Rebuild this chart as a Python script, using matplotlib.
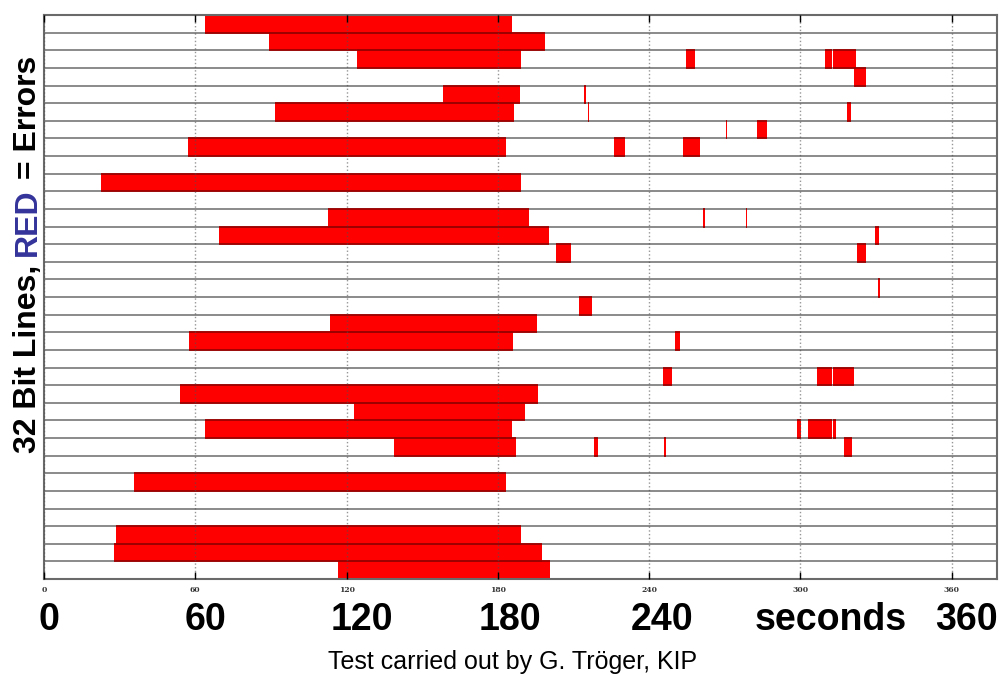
import numpy as np
import matplotlib
matplotlib.use("Agg")
import matplotlib.pyplot as plt
import matplotlib.transforms as mtransforms

# error intervals per bit line (line 0 = top row), seconds
err_line = [0, 1, 2, 2, 2, 2, 3, 4, 4, 5, 5, 5, 6, 6, 7, 7, 7, 9,
            11, 11, 11, 12, 12, 13, 13, 15, 16, 17, 18, 18,
            20, 20, 20, 21, 22, 23, 23, 23, 23, 24, 24, 24, 24,
            26, 29, 30, 31]
err_start = [64.0, 89.2, 124.1, 254.6, 309.7, 313.0, 321.2, 158.2, 214.3,
             91.6, 215.6, 318.7, 270.6, 282.9, 57.1, 226.2, 253.6, 22.5,
             112.8, 261.2, 278.3, 69.6, 329.8, 203.1, 322.5, 330.8, 212.3,
             113.5, 57.4, 250.3,
             245.6, 306.8, 313.0, 53.8, 123.0, 63.7, 298.5, 303.1, 313.0,
             138.9, 218.2, 245.9, 317.4,
             35.6, 28.4, 27.9, 116.6]
err_end = [185.5, 198.7, 189.2, 258.3, 312.5, 322.0, 326.2, 188.8, 215.0,
           186.4, 216.2, 320.0, 271.0, 286.6, 183.2, 230.4, 260.3, 189.0,
           192.5, 262.1, 278.9, 200.2, 331.0, 209.0, 326.2, 331.5, 217.2,
           195.4, 185.9, 252.2,
           248.9, 312.6, 321.2, 196.1, 190.8, 185.5, 300.2, 312.6, 314.3,
           187.1, 219.6, 246.8, 320.3,
           183.2, 189.2, 197.4, 200.7]

n_lines = 32
t_max = 378
ticks = [0, 60, 120, 180, 240, 300, 360]
big_labels = ["0", "60", "120", "180", "240", "seconds", "360"]
big_label_x = [2, 64, 126, 185, 245, 312, 366]

line = np.array(err_line)
start = np.array(err_start)
end = np.array(err_end)

fig = plt.figure(figsize=(9.99, 6.76), dpi=100)
ax = fig.add_axes([44 / 999, 97 / 676, 953 / 999, 564 / 676])

# row separators
ax.hlines(np.arange(1, n_lines), 0, t_max, color="#8a8a8a", lw=1.4, zorder=1)

# error bars
ax.barh(line + 0.5, end - start, left=start, height=1.0,
        color="#ff0000", edgecolor="none", zorder=2)
ax.hlines(np.r_[line, line + 1], np.r_[start, start], np.r_[end, end],
          color="#9e0000", lw=1.3, zorder=2.2)

ax.set_xlim(0, t_max)
ax.set_ylim(n_lines, 0)
ax.set_yticks([])
ax.set_xticks(ticks)
ax.set_xticklabels([str(t) for t in ticks], fontfamily="DejaVu Serif",
                   fontweight="bold", fontsize=5.5, color="#333333")
ax.tick_params(axis="x", direction="in", top=True, bottom=True,
               length=5, width=1, color="black", pad=5)
ax.grid(axis="x", ls=":", color="#505050", alpha=0.6, lw=1)
ax.set_axisbelow(False)
for sp in ax.spines.values():
    sp.set_color("#6a6a6a")
    sp.set_linewidth(1.5)

# big axis labels
trans = mtransforms.blended_transform_factory(ax.transData, ax.transAxes)
for xl, lab in zip(big_label_x, big_labels):
    ax.text(xl, -0.0904, lab, transform=trans, ha="center", va="baseline",
            fontsize=27, fontweight="bold", family="Liberation Sans")

fig.text(513 / 999, 0.011, "Test carried out by G. Tröger, KIP",
         ha="center", va="baseline", fontsize=18, family="Liberation Sans")

# y label in pieces: black / blue / black
lab_kw = dict(rotation=90, fontsize=23, fontweight="bold",
              family="Liberation Sans", ha="center", va="bottom")
t1 = fig.text(28 / 999, (676 - 453) / 676, "32 Bit Lines, ",
              color="black", **lab_kw)
t2 = ax.annotate("RED", xy=(0.5, 1), xycoords=t1, color="#33339a",
                 annotation_clip=False, **lab_kw)
t3 = ax.annotate(" = Errors", xy=(0.5, 1), xycoords=t2, color="black",
                 annotation_clip=False, **lab_kw)

fig.savefig("out.png", dpi=100)
